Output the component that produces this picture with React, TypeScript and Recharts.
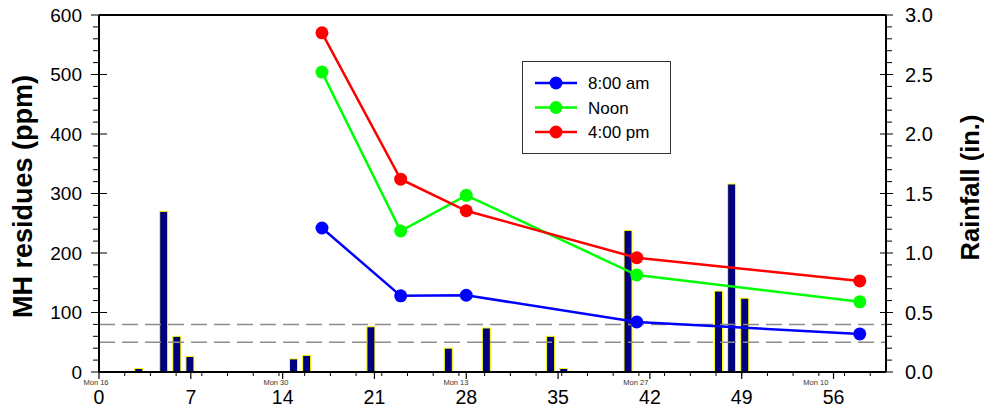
import React from 'react';
import { ComposedChart, Line, Bar, XAxis, YAxis, ReferenceLine, Legend } from 'recharts';

// MH residues (ppm) sampled on these days, three times a day
const sampleDays = [17, 23, 28, 41, 58];
const residuesAm = [242, 128, 129, 84, 64];
const residuesNoon = [504, 237, 297, 163, 118];
const residuesPm = [570, 324, 271, 192, 153];

// rainfall events (in.)
const rainDays = [3.0, 4.9, 5.9, 6.9, 14.8, 15.8, 20.7, 26.6, 29.5, 34.4, 35.4, 40.3, 47.2, 48.2, 49.2];
const rainfall = [0.03, 1.35, 0.3, 0.13, 0.11, 0.14, 0.38, 0.2, 0.37, 0.3, 0.03, 1.19, 0.68, 1.58, 0.62];

const dayTicks = [0, 7, 14, 21, 28, 35, 42, 49, 56];
const dateLabels = ['Mon 16', 'Mon 30', 'Mon 13', 'Mon 27', 'Mon 10'];
const residueTicks = [0, 100, 200, 300, 400, 500, 600];
const rainTicks = [0, 0.5, 1, 1.5, 2, 2.5, 3];
const limitLines = [80, 50];

const FONT = '"Liberation Sans", Arial, sans-serif';
const DATE_STEP = 1.96; // the date axis runs every 2 days on a slightly shorter scale
const DAY_AXIS_H = 34;

type Row = { day: number; rain?: number; am?: number; noon?: number; pm?: number };
const rows: Row[] = [];
rainDays.forEach((d, i) => rows.push({ day: d, rain: rainfall[i] }));
sampleDays.forEach((d, i) =>
  rows.push({ day: d, am: residuesAm[i], noon: residuesNoon[i], pm: residuesPm[i] })
);
rows.sort((a, b) => a.day - b.day);

const dateTicks = Array.from({ length: 31 }, (_, i) => +(i * DATE_STEP).toFixed(2));
const leftTicks = Array.from({ length: 31 }, (_, i) => i * 20);
const rightTicks = Array.from({ length: 31 }, (_, i) => +(i / 10).toFixed(1));

const series = [
  { key: 'am', name: '8:00 am', color: '#0000ff' },
  { key: 'noon', name: 'Noon', color: '#00ff00' },
  { key: 'pm', name: '4:00 pm', color: '#ff0000' },
];

const DayTick = (props: any) => {
  const { x, y, payload } = props;
  return (
    <g>
      <line x1={x} x2={x} y1={y} y2={y + 7} stroke="#000" strokeWidth={1.2} />
      <text x={x} y={y + 32} textAnchor="middle" fontSize={19.5} fontFamily={FONT} fill="#000">
        {payload.value}
      </text>
    </g>
  );
};

// the date axis is stacked under the day axis, so draw it back up on the plot edge
const DateTick = (props: any) => {
  const { x, payload, index } = props;
  const y = props.y - DAY_AXIS_H;
  return (
    <g>
      {payload.value > 0 && <line x1={x} x2={x} y1={y} y2={y + 4} stroke="#000" strokeWidth={1} />}
      {index % 7 === 0 && (
        <text x={x - 3} y={y + 12.5} textAnchor="middle" fontSize={7.5} fontFamily={FONT} fill="#333">
          {dateLabels[index / 7]}
        </text>
      )}
    </g>
  );
};

const LeftTick = (props: any) => {
  const { x, y, payload } = props;
  const major = residueTicks.includes(payload.value);
  return (
    <g>
      <line x1={major ? x - 8 : x - 6} x2={major ? x + 8 : x} y1={y} y2={y} stroke="#000" strokeWidth={1} />
      {major && (
        <text x={x - 17} y={y} dy="0.36em" textAnchor="end" fontSize={19} fontFamily={FONT} fill="#000">
          {payload.value}
        </text>
      )}
    </g>
  );
};

const RightTick = (props: any) => {
  const { x, y, payload } = props;
  const major = rainTicks.includes(payload.value);
  return (
    <g>
      <line x1={major ? x - 6 : x} x2={major ? x + 7 : x + 6} y1={y} y2={y} stroke="#000" strokeWidth={1} />
      {major && (
        <text x={x + 19} y={y} dy="0.36em" textAnchor="start" fontSize={20} fontFamily={FONT} fill="#000">
          {payload.value.toFixed(1)}
        </text>
      )}
    </g>
  );
};

const renderLegend = () => (
  <div style={{ width: 147, height: 91, border: '1px solid #333', background: '#fff' }}>
    <svg width={147} height={91}>
      {series.map((s, i) => (
        <g key={s.key} transform={`translate(0, ${21 + i * 24.5})`}>
          <line x1={12} x2={54} y1={0} y2={0} stroke={s.color} strokeWidth={2.5} />
          <circle cx={33} cy={0} r={6.5} fill={s.color} />
          <text x={65} y={0} dy="0.36em" fontSize={17} fontFamily={FONT} fill="#000">
            {s.name}
          </text>
        </g>
      ))}
    </svg>
  </div>
);

const App: React.FC = () => {
  return (
    <div style={{ position: 'absolute', left: 0, top: 0, fontFamily: FONT, background: '#fff' }}>
      <ComposedChart width={984} height={407} data={rows} margin={{ top: 15, right: 0, bottom: 0, left: 0 }}>
        <XAxis
          dataKey="day"
          type="number"
          domain={[0, 60]}
          ticks={dayTicks}
          interval={0}
          tickLine={false}
          tickSize={0}
          tickMargin={0}
          tick={<DayTick />}
          height={DAY_AXIS_H}
          axisLine={{ stroke: '#000', strokeWidth: 2 }}
        />
        <XAxis
          xAxisId="date"
          dataKey="day"
          type="number"
          domain={[0, 60]}
          ticks={dateTicks}
          interval={0}
          tickLine={false}
          tickSize={0}
          tickMargin={0}
          tick={<DateTick />}
          height={1}
          axisLine={false}
        />
        <YAxis
          yAxisId="left"
          orientation="left"
          domain={[0, 600]}
          ticks={leftTicks}
          interval={0}
          tickLine={false}
          tickSize={0}
          tickMargin={0}
          tick={<LeftTick />}
          width={99}
          axisLine={{ stroke: '#000', strokeWidth: 2 }}
          label={{
            value: 'MH residues (ppm)',
            angle: -90,
            position: 'insideLeft',
            offset: 22,
            dy: 3,
            style: { textAnchor: 'middle', fontSize: 27, fontWeight: 'bold', fontFamily: FONT, fill: '#000' },
          }}
        />
        <YAxis
          yAxisId="right"
          orientation="right"
          domain={[0, 3]}
          ticks={rightTicks}
          interval={0}
          tickLine={false}
          tickSize={0}
          tickMargin={0}
          tick={<RightTick />}
          width={98}
          axisLine={{ stroke: '#000', strokeWidth: 2 }}
          label={{
            value: 'Rainfall (in.)',
            angle: -90,
            position: 'insideRight',
            offset: 14,
            dy: -6,
            style: { textAnchor: 'middle', fontSize: 25.5, fontWeight: 'bold', fontFamily: FONT, fill: '#000' },
          }}
        />
        {limitLines.map((v) => (
          <ReferenceLine key={v} yAxisId="left" y={v} stroke="#8c8c8c" strokeWidth={1.5} strokeDasharray="16 7" />
        ))}
        <ReferenceLine yAxisId="left" y={600} stroke="#000" strokeWidth={2} />
        {series.map((s) => (
          <Line
            key={s.key}
            yAxisId="left"
            dataKey={s.key}
            name={s.name}
            stroke={s.color}
            strokeWidth={2.5}
            connectNulls
            dot={{ r: 6.5, fill: s.color, stroke: s.color, strokeWidth: 0 }}
            activeDot={false}
            isAnimationActive={false}
          />
        ))}
        <Bar
          yAxisId="right"
          dataKey="rain"
          barSize={8}
          fill="#000080"
          stroke="#ffff00"
          strokeWidth={1}
          legendType="none"
          isAnimationActive={false}
        />
        <Legend
          layout="vertical"
          align="center"
          verticalAlign="middle"
          content={renderLegend}
          wrapperStyle={{ left: 522, top: 61, width: 149, height: 93 }}
        />
      </ComposedChart>
    </div>
  );
};

export default App;
